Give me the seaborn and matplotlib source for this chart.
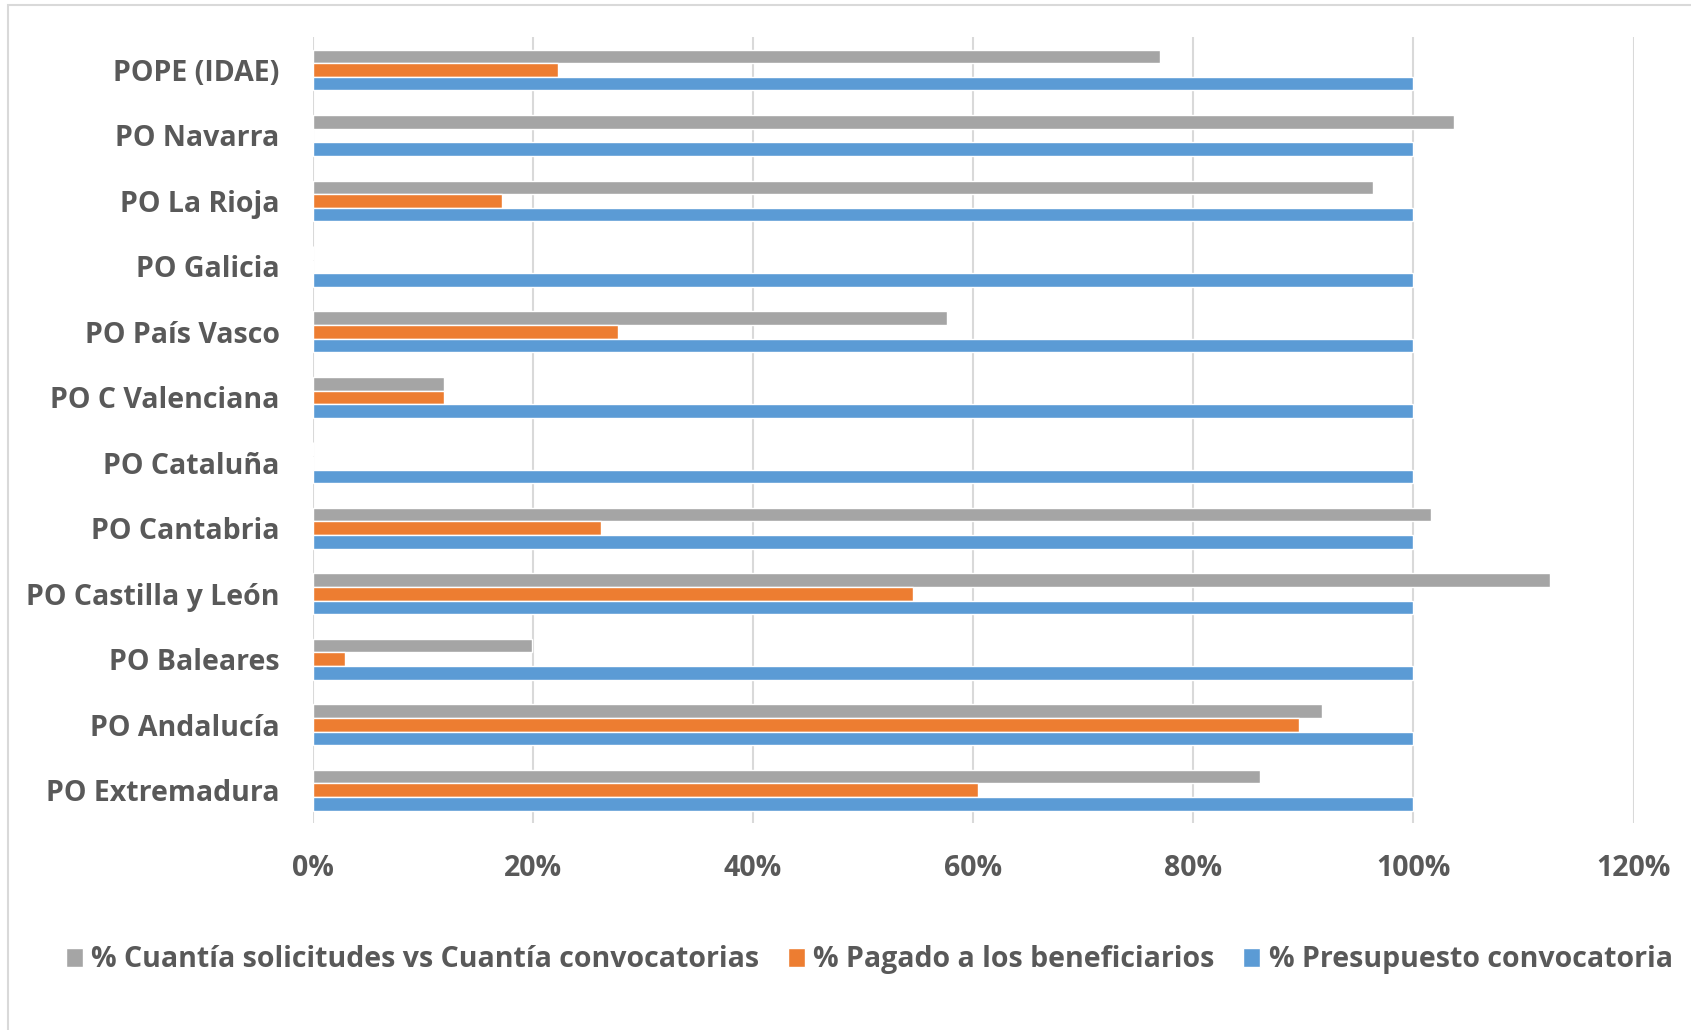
import pandas as pd
import numpy as np
import matplotlib.pyplot as plt
import seaborn as sns
from matplotlib.ticker import PercentFormatter
from matplotlib.patches import Rectangle

categories = ["POPE (IDAE)", "PO Navarra", "PO La Rioja", "PO Galicia", "PO País Vasco",
              "PO C Valenciana", "PO Cataluña", "PO Cantabria", "PO Castilla y León",
              "PO Baleares", "PO Andalucía", "PO Extremadura"]
series = ["% Cuantía solicitudes vs Cuantía convocatorias", "% Pagado a los beneficiarios",
          "% Presupuesto convocatoria"]
solicitudes = [0.770, 1.037, 0.963, 0.0, 0.576, 0.119, 0.0, 1.016, 1.124, 0.199, 0.917, 0.861]
pagado = [0.223, 0.0, 0.172, 0.0, 0.277, 0.119, 0.0, 0.262, 0.545, 0.029, 0.896, 0.604]
presupuesto = [1.0] * 12
colors = ["#a5a5a5", "#ed7d31", "#5b9bd5"]

df = pd.DataFrame({
    "cat": categories * 3,
    "serie": [series[0]] * 12 + [series[1]] * 12 + [series[2]] * 12,
    "val": solicitudes + pagado + presupuesto,
})

sns.set_style("white")
plt.rcParams['font.family'] = ['Open Sans', 'DejaVu Sans']

fig = plt.figure(figsize=(16.91, 10.30), dpi=100)
ax = fig.add_axes([0.185, 0.201, 0.781, 0.763])
sns.barplot(data=df, x="val", y="cat", hue="serie", hue_order=series, order=categories,
            palette=colors, width=0.62, orient="h", ax=ax, legend=True, saturation=1)

ax.set_xlim(0, 1.2)
ax.set_xticks(np.arange(0, 1.21, 0.2))
ax.xaxis.set_major_formatter(PercentFormatter(1.0, decimals=0))
ax.grid(axis="x", color="#d9d9d9", linewidth=1.5)
ax.set_axisbelow(True)
for s in ax.spines.values():
    s.set_visible(False)
ax.set_xlabel("")
ax.set_ylabel("")
ax.tick_params(axis="x", length=0, pad=22, labelsize=20.5, labelcolor="#595959")
ax.tick_params(axis="y", length=0, pad=24, labelsize=20.5, labelcolor="#595959")
for t in ax.get_xticklabels() + ax.get_yticklabels():
    t.set_fontweight("bold")

h, l = ax.get_legend_handles_labels()
ax.get_legend().remove()
fig.legend(h, l, loc="center", bbox_to_anchor=(0.514, 0.068), ncol=3, frameon=False,
           handlelength=0.6, handleheight=0.7, handletextpad=0.3, columnspacing=1.0,
           prop={"size": 20.5, "weight": "bold"}, labelcolor="#595959")

fig.patches.append(Rectangle((0.005, -0.01), 1.2, 1.005, transform=fig.transFigure,
                             fill=False, edgecolor="#d9d9d9", linewidth=1.5))

fig.savefig("out.png", dpi=100)
